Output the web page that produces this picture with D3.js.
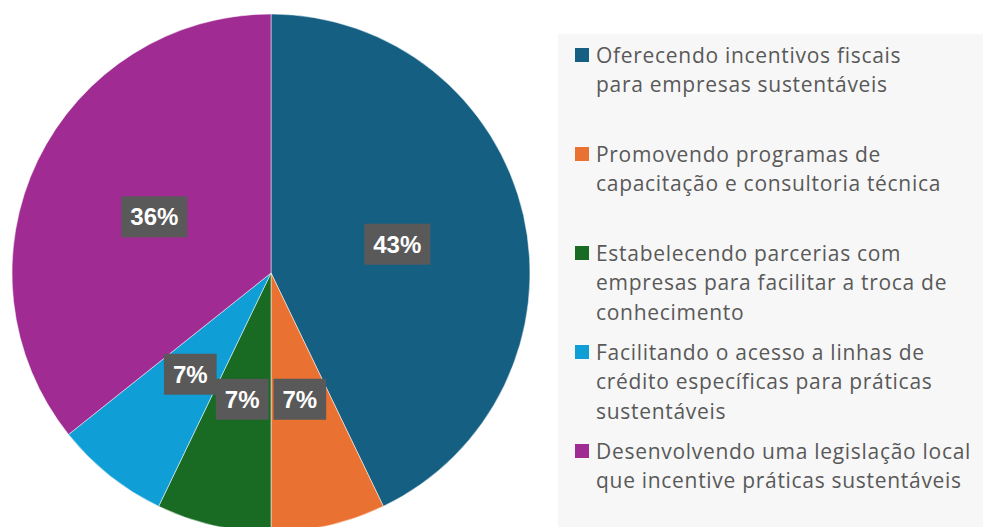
<!DOCTYPE html>
<html>
<head>
<meta charset="utf-8">
<script src="https://cdn.jsdelivr.net/npm/d3@7"></script>
<style>
  html, body { margin: 0; padding: 0; background: #fff; }
  svg { display: block; }
</style>
</head>
<body>
<div id="viz"></div>
<script>
const width = 983;
const height = 527;

// data
const categories = [
    "Oferecendo incentivos fiscais para empresas sustentáveis",
    "Promovendo programas de capacitação e consultoria técnica",
    "Estabelecendo parcerias com empresas para facilitar a troca de conhecimento",
    "Facilitando o acesso a linhas de crédito específicas para práticas sustentáveis",
    "Desenvolvendo uma legislação local que incentive práticas sustentáveis"
];
const legendLines = [
    ["Oferecendo incentivos fiscais", "para empresas sustentáveis"],
    ["Promovendo programas de", "capacitação e consultoria técnica"],
    ["Estabelecendo parcerias com", "empresas para facilitar a troca de", "conhecimento"],
    ["Facilitando o acesso a linhas de", "crédito específicas para práticas", "sustentáveis"],
    ["Desenvolvendo uma legislação local", "que incentive práticas sustentáveis"]
];
const counts = [6, 1, 1, 1, 5];
const colors = ["#156082", "#E97132", "#196B24", "#0F9ED5", "#A02B93"];

const cx = 271, cy = 273, radius = 259;

const svg = d3.select('#viz')
    .append('svg')
        .attr('width', width)
        .attr('height', height)
        .attr('viewBox', [0, 0, width, height]);

const total = d3.sum(counts);
const pie = d3.pie().sort(null).value(d => d);
const arcs = pie(counts);
const arc = d3.arc().innerRadius(0).outerRadius(radius);

const g = svg.append('g').attr('transform', `translate(${cx}, ${cy})`);

g.selectAll('path')
    .data(arcs)
    .join('path')
        .attr('d', arc)
        .attr('fill', (d, i) => colors[i])
        .attr('stroke', '#ffffff')
        .attr('stroke-width', 0.5);

// data labels, at half radius
const labels = g.selectAll('g.lbl')
    .data(arcs)
    .join('g')
        .attr('class', 'lbl')
        .attr('transform', d => `translate(${arc.centroid(d)})`);

labels.each(function(d) {
    const sel = d3.select(this);
    const txt = Math.round(d.value / total * 100) + '%';
    const t = sel.append('text')
        .attr('text-anchor', 'middle')
        .attr('dy', '0.36em')
        .attr('fill', '#ffffff')
        .attr('font-family', 'Liberation Sans, Arial, sans-serif')
        .attr('font-weight', 'bold')
        .attr('font-size', 24)
        .text(txt);
    const w = t.node().getComputedTextLength() + 18;
    sel.insert('rect', 'text')
        .attr('x', -w / 2)
        .attr('y', -20.5)
        .attr('width', w)
        .attr('height', 41)
        .attr('fill', '#595959');
});

// legend
const legend = svg.append('g');
legend.append('rect')
    .attr('x', 558)
    .attr('y', 34)
    .attr('width', width - 558)
    .attr('height', height - 34)
    .attr('fill', '#f7f7f7');

const slot = 99;
const items = legend.selectAll('g.item')
    .data(categories)
    .join('g')
        .attr('class', 'item')
        .attr('transform', (d, i) => `translate(575, ${48 + i * slot})`);

items.append('rect')
    .attr('width', 14)
    .attr('height', 14)
    .attr('fill', (d, i) => colors[i]);

items.append('text')
    .attr('x', 21)
    .attr('y', 0)
    .attr('fill', '#595959')
    .attr('font-family', 'Open Sans, sans-serif')
    .attr('font-size', 21)
    .attr('letter-spacing', 0.7)
    .selectAll('tspan')
    .data((d, i) => legendLines[i])
    .join('tspan')
        .attr('x', 21)
        .attr('dy', (d, j) => j === 0 ? 14.5 : 29.5)
        .text(d => d);
</script>
</body>
</html>
